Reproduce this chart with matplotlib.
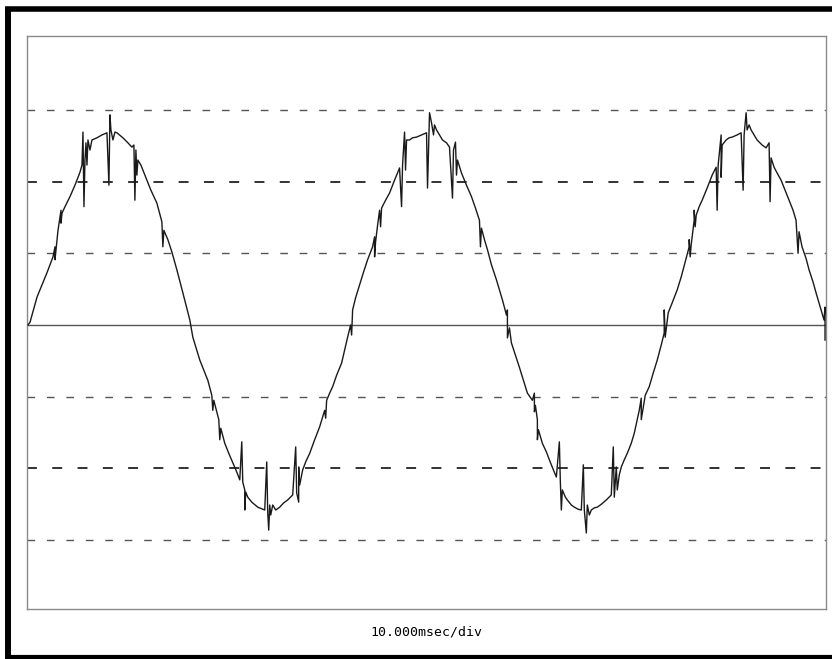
"""
Scope capture: line voltage with switching spikes, 10 ms/div
Plots the trace read from the scope screen dump
"""

import numpy as np
import matplotlib
matplotlib.use('Agg')
import matplotlib.pyplot as plt
from matplotlib.lines import Line2D


# sample interval of the scope record (ms), 80 samples per division
DT = 0.125
TIME_PER_DIV = 10.0

# trace: sample number and amplitude (in divisions)
samples = [1, 3, 10, 20, 26, 28, 28, 29, 31, 33, 34, 34, 35, 38, 43, 48, 53, 55, 56, 57,
           58, 59, 60, 61, 63, 65, 70, 75, 80, 82, 83, 84, 86, 88, 90, 96, 101, 105, 107, 108,
           109, 110, 111, 114, 118, 124, 130, 135, 136, 137, 141, 145, 150, 156, 163,
           166, 173, 181, 185, 186, 187, 192, 193, 194, 198, 202, 206, 210, 213, 215,
           216, 218, 218, 219, 221, 225, 231, 238, 240, 241, 242, 243, 244, 246, 249, 253,
           257, 261, 266, 269, 270, 272, 272, 273, 276, 279, 283, 288, 293, 298, 299, 300,
           303, 306, 310, 315, 321, 324,
           325, 326, 329, 333, 337, 341, 346, 348, 348, 349, 351, 353, 354, 355, 359, 363,
           368, 373, 375, 376, 378, 379, 380, 383, 386, 390, 395, 400, 401, 403, 405, 407,
           408, 410, 413, 416, 420, 423, 426, 427, 429, 430, 431, 435, 440, 445, 449, 453,
           454, 455, 458, 461, 465, 470, 476, 480,
           481, 481, 483, 485, 489, 493, 497, 501, 506, 508, 508, 509, 511, 511, 512, 516,
           520, 523, 527, 530, 533, 534, 535, 536, 539, 541, 545, 548, 552, 555, 557, 558,
           560, 561, 563, 565, 568, 571, 575, 580, 585, 587, 588, 590, 591, 593, 595, 598,
           601, 605, 608, 613, 615, 615, 619, 623, 627, 631, 635, 638,
           638, 639, 642, 646, 651, 655, 659, 663, 663, 664, 665, 668, 668, 669, 670, 673,
           676, 681, 686, 690, 691, 692, 695, 695, 696, 700, 703, 706, 711, 715, 717, 718,
           720, 721, 723, 725, 728, 731, 736, 740, 743, 744, 745, 748, 751, 755, 759, 763,
           767, 770, 772, 773, 776, 780, 783, 787, 790, 795, 798, 799, 799]

amplitude = [0.00, 0.04, 0.39, 0.73, 0.95, 1.09, 0.91, 1.05, 1.32, 1.51, 1.60, 1.42, 1.56, 1.65, 1.79, 1.95, 2.13, 2.23, 2.69, 1.65,
             2.30, 2.54, 2.23, 2.58, 2.44, 2.58, 2.61, 2.65, 2.68, 1.95, 2.93, 2.72, 2.58, 2.69, 2.68, 2.61, 2.54, 2.48, 2.51, 1.74,
             2.44, 2.09, 2.30, 2.23, 2.09, 1.88, 1.70, 1.44, 1.09, 1.32, 1.19, 1.02, 0.77, 0.45, 0.07,
             -0.17, -0.49, -0.77, -0.98, -1.19, -1.05, -1.32, -1.60, -1.44, -1.65, -1.79, -1.92, -2.05, -2.16, -1.63,
             -2.19, -2.30, -2.58, -2.33, -2.40, -2.47, -2.54, -2.58, -1.91, -2.62, -2.86, -2.51, -2.65, -2.51, -2.58, -2.54,
             -2.48, -2.44, -2.37, -1.70, -2.34, -2.47, -1.98, -2.23, -2.02, -1.91, -1.79, -1.60, -1.42, -1.19, -1.30, -1.05,
             -0.95, -0.86, -0.70, -0.53, -0.17, 0.00,
             -0.14, 0.21, 0.38, 0.56, 0.74, 0.91, 1.09, 1.23, 0.95, 1.16, 1.39, 1.60, 1.37, 1.63, 1.74, 1.84,
             2.02, 2.19, 1.65, 2.23, 2.69, 2.16, 2.58, 2.58, 2.61, 2.62, 2.65, 2.68, 1.91, 2.96, 2.82, 2.65,
             2.79, 2.72, 2.65, 2.58, 2.54, 2.48, 1.77, 2.44, 2.55, 2.09, 2.30, 2.12, 1.95, 1.79, 1.63, 1.46,
             1.09, 1.35, 1.19, 1.05, 0.84, 0.63, 0.35, 0.14,
             0.21, -0.18, -0.04, -0.25, -0.42, -0.59, -0.77, -0.95, -1.05, -0.95, -1.21, -1.12, -1.32, -1.60, -1.46, -1.65,
             -1.77, -1.88, -2.02, -2.12, -1.63, -2.19, -2.58, -2.30, -2.40, -2.44, -2.51, -2.54, -2.57, -2.58, -1.95, -2.58,
             -2.90, -2.51, -2.65, -2.58, -2.55, -2.54, -2.50, -2.44, -2.37, -1.70, -2.40, -1.98, -2.30, -2.09, -1.98, -1.88,
             -1.79, -1.65, -1.51, -1.19, -1.02, -1.32, -0.98, -0.86, -0.67, -0.49, -0.28, -0.11,
             0.21, -0.17, 0.17, 0.31, 0.49, 0.67, 0.88, 1.09, 1.19, 0.95, 1.12, 1.46, 1.60, 1.37, 1.53, 1.65,
             1.74, 1.91, 2.09, 2.20, 1.60, 2.23, 2.65, 2.06, 2.51, 2.58, 2.61, 2.62, 2.65, 2.68, 1.88, 2.65,
             2.96, 2.72, 2.79, 2.72, 2.65, 2.58, 2.51, 2.47, 2.54, 1.72, 2.33, 2.20, 2.12, 2.02, 1.88, 1.74,
             1.60, 1.46, 1.00, 1.30, 1.09, 0.93, 0.77, 0.60, 0.45, 0.21, 0.07, 0.25, -0.21]

# graticule
grid_levels = [-3, -2, -1, 1, 2, 3]
n_div_x = 10
label = '10.000msec/div'


def main():
    t = np.array(samples) * DT
    v = np.array(amplitude)

    fig = plt.figure(figsize=(8.32, 6.59), dpi=100)
    fig.patch.set_facecolor('white')

    ax = fig.add_axes([0.0325, 0.0759, 0.9603, 0.8695])
    ax.set_xlim(0, n_div_x * TIME_PER_DIV)
    ax.set_ylim(-3.96, 4.03)

    # dashed graticule lines, solid centre line
    for lv in grid_levels:
        dark = abs(lv) == 2
        ax.axhline(lv, color='#222222' if dark else '#555555', lw=1.3 if dark else 1.0,
                   dashes=(5.5, 8.5), zorder=1)
    ax.axhline(0, color='#555555', lw=1.0, zorder=1)

    ax.plot(t, v, color='#1a1a1a', lw=1.0, zorder=3)

    ax.set_xticks([])
    ax.set_yticks([])
    for s in ax.spines.values():
        s.set_color('#8a8a8a')
        s.set_linewidth(1.0)

    fig.text(426 / 832, 0.0364, label, ha='center', va='baseline',
             family='DejaVu Sans Mono', fontsize=9.5, color='black')

    # black frame of the screen dump
    fig.add_artist(Line2D([8 / 832, 8 / 832], [2 / 659, 650 / 659], transform=fig.transFigure,
                          color='black', lw=4.3, solid_capstyle='butt'))
    fig.add_artist(Line2D([5 / 832, 1.0], [650 / 659, 650 / 659], transform=fig.transFigure,
                          color='black', lw=4.0, solid_capstyle='butt'))
    fig.add_artist(Line2D([5 / 832, 1.0], [2 / 659, 2 / 659], transform=fig.transFigure,
                          color='black', lw=3.0, solid_capstyle='butt'))

    fig.savefig('out.png', dpi=100)


if __name__ == '__main__':
    main()
